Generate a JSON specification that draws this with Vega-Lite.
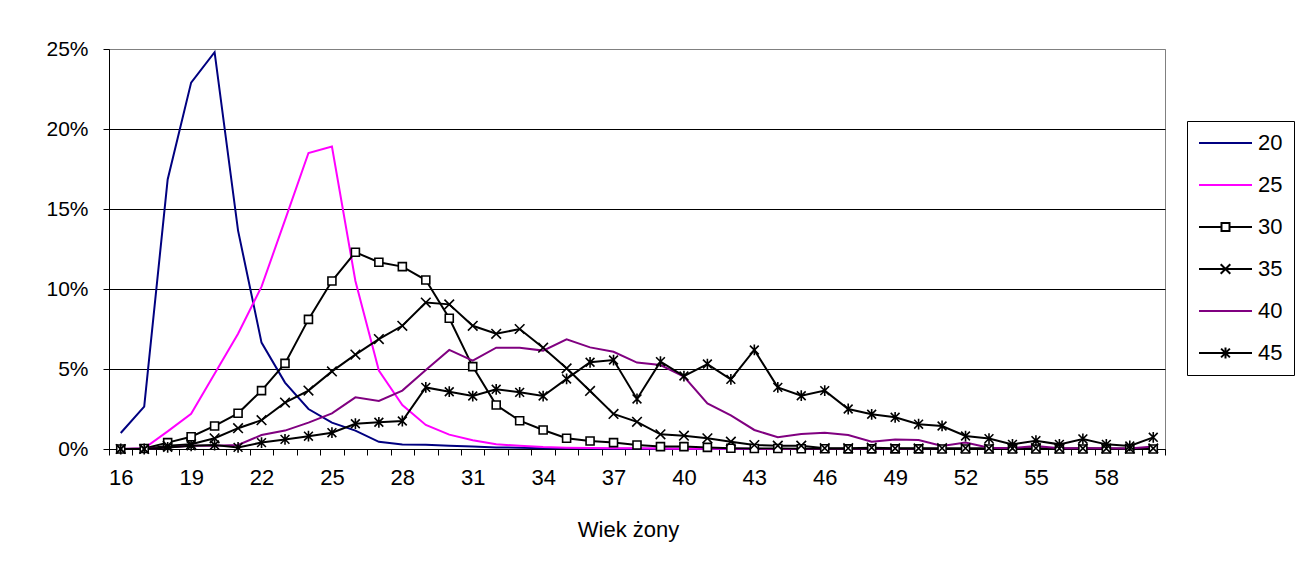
{
  "$schema": "https://vega.github.io/schema/vega-lite/v6.json",
  "width": 1056,
  "height": 400,
  "autosize": {"type": "none"},
  "padding": {"left": 109, "top": 49, "right": 139, "bottom": 122},
  "background": "white",
  "config": {"font": "Liberation Sans", "view": {"stroke": "#808080", "strokeWidth": 1}},
  "data": {"values": [
    {"a":16,"g":"20","v":1.0},{"a":17,"g":"20","v":2.65},{"a":18,"g":"20","v":16.85},{"a":19,"g":"20","v":22.9},{"a":20,"g":"20","v":24.8},{"a":21,"g":"20","v":13.65},{"a":22,"g":"20","v":6.65},{"a":23,"g":"20","v":4.15},{"a":24,"g":"20","v":2.5},{"a":25,"g":"20","v":1.65},{"a":26,"g":"20","v":1.15},{"a":27,"g":"20","v":0.45},{"a":28,"g":"20","v":0.28},{"a":29,"g":"20","v":0.27},{"a":30,"g":"20","v":0.2},{"a":31,"g":"20","v":0.15},{"a":32,"g":"20","v":0.1},{"a":33,"g":"20","v":0.08},{"a":34,"g":"20","v":0.05},{"a":35,"g":"20","v":0.04},{"a":36,"g":"20","v":0.03},{"a":37,"g":"20","v":0.02},{"a":38,"g":"20","v":0.02},{"a":39,"g":"20","v":0.01},{"a":40,"g":"20","v":0.01},{"a":41,"g":"20","v":0},{"a":42,"g":"20","v":0},{"a":43,"g":"20","v":0},{"a":44,"g":"20","v":0},{"a":45,"g":"20","v":0},{"a":46,"g":"20","v":0},{"a":47,"g":"20","v":0},{"a":48,"g":"20","v":0},{"a":49,"g":"20","v":0},{"a":50,"g":"20","v":0},{"a":51,"g":"20","v":0},{"a":52,"g":"20","v":0},{"a":53,"g":"20","v":0},{"a":54,"g":"20","v":0},{"a":55,"g":"20","v":0},{"a":56,"g":"20","v":0},{"a":57,"g":"20","v":0},{"a":58,"g":"20","v":0},{"a":59,"g":"20","v":0},{"a":60,"g":"20","v":0},
    {"a":16,"g":"25","v":0},{"a":17,"g":"25","v":0.05},{"a":18,"g":"25","v":1.1},{"a":19,"g":"25","v":2.2},{"a":20,"g":"25","v":4.7},{"a":21,"g":"25","v":7.2},{"a":22,"g":"25","v":10.15},{"a":23,"g":"25","v":14.3},{"a":24,"g":"25","v":18.5},{"a":25,"g":"25","v":18.9},{"a":26,"g":"25","v":10.5},{"a":27,"g":"25","v":4.9},{"a":28,"g":"25","v":2.75},{"a":29,"g":"25","v":1.5},{"a":30,"g":"25","v":0.9},{"a":31,"g":"25","v":0.55},{"a":32,"g":"25","v":0.3},{"a":33,"g":"25","v":0.2},{"a":34,"g":"25","v":0.12},{"a":35,"g":"25","v":0.08},{"a":36,"g":"25","v":0.06},{"a":37,"g":"25","v":0.05},{"a":38,"g":"25","v":0.04},{"a":39,"g":"25","v":0.03},{"a":40,"g":"25","v":0.02},{"a":41,"g":"25","v":0.02},{"a":42,"g":"25","v":0.01},{"a":43,"g":"25","v":0.01},{"a":44,"g":"25","v":0},{"a":45,"g":"25","v":0},{"a":46,"g":"25","v":0},{"a":47,"g":"25","v":0},{"a":48,"g":"25","v":0},{"a":49,"g":"25","v":0},{"a":50,"g":"25","v":0},{"a":51,"g":"25","v":0},{"a":52,"g":"25","v":0},{"a":53,"g":"25","v":0},{"a":54,"g":"25","v":0},{"a":55,"g":"25","v":0},{"a":56,"g":"25","v":0},{"a":57,"g":"25","v":0},{"a":58,"g":"25","v":0},{"a":59,"g":"25","v":0},{"a":60,"g":"25","v":0},
    {"a":16,"g":"30","v":0},{"a":17,"g":"30","v":0.03},{"a":18,"g":"30","v":0.4},{"a":19,"g":"30","v":0.77},{"a":20,"g":"30","v":1.44},{"a":21,"g":"30","v":2.23},{"a":22,"g":"30","v":3.65},{"a":23,"g":"30","v":5.35},{"a":24,"g":"30","v":8.1},{"a":25,"g":"30","v":10.5},{"a":26,"g":"30","v":12.3},{"a":27,"g":"30","v":11.67},{"a":28,"g":"30","v":11.4},{"a":29,"g":"30","v":10.56},{"a":30,"g":"30","v":8.17},{"a":31,"g":"30","v":5.15},{"a":32,"g":"30","v":2.75},{"a":33,"g":"30","v":1.77},{"a":34,"g":"30","v":1.19},{"a":35,"g":"30","v":0.67},{"a":36,"g":"30","v":0.5},{"a":37,"g":"30","v":0.4},{"a":38,"g":"30","v":0.25},{"a":39,"g":"30","v":0.15},{"a":40,"g":"30","v":0.15},{"a":41,"g":"30","v":0.1},{"a":42,"g":"30","v":0.05},{"a":43,"g":"30","v":0.03},{"a":44,"g":"30","v":0.03},{"a":45,"g":"30","v":0.02},{"a":46,"g":"30","v":0.02},{"a":47,"g":"30","v":0.01},{"a":48,"g":"30","v":0.01},{"a":49,"g":"30","v":0.01},{"a":50,"g":"30","v":0.01},{"a":51,"g":"30","v":0},{"a":52,"g":"30","v":0},{"a":53,"g":"30","v":0},{"a":54,"g":"30","v":0},{"a":55,"g":"30","v":0},{"a":56,"g":"30","v":0},{"a":57,"g":"30","v":0},{"a":58,"g":"30","v":0},{"a":59,"g":"30","v":0},{"a":60,"g":"30","v":0},
    {"a":16,"g":"35","v":0},{"a":17,"g":"35","v":0},{"a":18,"g":"35","v":0.2},{"a":19,"g":"35","v":0.3},{"a":20,"g":"35","v":0.67},{"a":21,"g":"35","v":1.3},{"a":22,"g":"35","v":1.8},{"a":23,"g":"35","v":2.9},{"a":24,"g":"35","v":3.65},{"a":25,"g":"35","v":4.85},{"a":26,"g":"35","v":5.9},{"a":27,"g":"35","v":6.87},{"a":28,"g":"35","v":7.7},{"a":29,"g":"35","v":9.15},{"a":30,"g":"35","v":9.04},{"a":31,"g":"35","v":7.7},{"a":32,"g":"35","v":7.2},{"a":33,"g":"35","v":7.5},{"a":34,"g":"35","v":6.33},{"a":35,"g":"35","v":5.04},{"a":36,"g":"35","v":3.63},{"a":37,"g":"35","v":2.19},{"a":38,"g":"35","v":1.7},{"a":39,"g":"35","v":0.92},{"a":40,"g":"35","v":0.83},{"a":41,"g":"35","v":0.67},{"a":42,"g":"35","v":0.46},{"a":43,"g":"35","v":0.25},{"a":44,"g":"35","v":0.21},{"a":45,"g":"35","v":0.21},{"a":46,"g":"35","v":0.05},{"a":47,"g":"35","v":0.05},{"a":48,"g":"35","v":0.08},{"a":49,"g":"35","v":0.04},{"a":50,"g":"35","v":0.04},{"a":51,"g":"35","v":0.05},{"a":52,"g":"35","v":0.05},{"a":53,"g":"35","v":0.04},{"a":54,"g":"35","v":0.04},{"a":55,"g":"35","v":0.05},{"a":56,"g":"35","v":0.03},{"a":57,"g":"35","v":0.04},{"a":58,"g":"35","v":0.03},{"a":59,"g":"35","v":0.03},{"a":60,"g":"35","v":0.04},
    {"a":16,"g":"40","v":0},{"a":17,"g":"40","v":0},{"a":18,"g":"40","v":0.1},{"a":19,"g":"40","v":0.2},{"a":20,"g":"40","v":0.2},{"a":21,"g":"40","v":0.25},{"a":22,"g":"40","v":0.87},{"a":23,"g":"40","v":1.15},{"a":24,"g":"40","v":1.65},{"a":25,"g":"40","v":2.23},{"a":26,"g":"40","v":3.23},{"a":27,"g":"40","v":3.0},{"a":28,"g":"40","v":3.65},{"a":29,"g":"40","v":4.94},{"a":30,"g":"40","v":6.19},{"a":31,"g":"40","v":5.52},{"a":32,"g":"40","v":6.33},{"a":33,"g":"40","v":6.33},{"a":34,"g":"40","v":6.15},{"a":35,"g":"40","v":6.85},{"a":36,"g":"40","v":6.35},{"a":37,"g":"40","v":6.08},{"a":38,"g":"40","v":5.4},{"a":39,"g":"40","v":5.25},{"a":40,"g":"40","v":4.52},{"a":41,"g":"40","v":2.85},{"a":42,"g":"40","v":2.1},{"a":43,"g":"40","v":1.19},{"a":44,"g":"40","v":0.73},{"a":45,"g":"40","v":0.94},{"a":46,"g":"40","v":1.02},{"a":47,"g":"40","v":0.87},{"a":48,"g":"40","v":0.46},{"a":49,"g":"40","v":0.6},{"a":50,"g":"40","v":0.56},{"a":51,"g":"40","v":0.19},{"a":52,"g":"40","v":0.4},{"a":53,"g":"40","v":0.08},{"a":54,"g":"40","v":0.05},{"a":55,"g":"40","v":0.19},{"a":56,"g":"40","v":0.05},{"a":57,"g":"40","v":0.05},{"a":58,"g":"40","v":0.05},{"a":59,"g":"40","v":0.03},{"a":60,"g":"40","v":0.15},
    {"a":16,"g":"45","v":0},{"a":17,"g":"45","v":0},{"a":18,"g":"45","v":0.1},{"a":19,"g":"45","v":0.2},{"a":20,"g":"45","v":0.25},{"a":21,"g":"45","v":0.1},{"a":22,"g":"45","v":0.4},{"a":23,"g":"45","v":0.6},{"a":24,"g":"45","v":0.8},{"a":25,"g":"45","v":1.02},{"a":26,"g":"45","v":1.58},{"a":27,"g":"45","v":1.67},{"a":28,"g":"45","v":1.75},{"a":29,"g":"45","v":3.85},{"a":30,"g":"45","v":3.58},{"a":31,"g":"45","v":3.31},{"a":32,"g":"45","v":3.73},{"a":33,"g":"45","v":3.54},{"a":34,"g":"45","v":3.31},{"a":35,"g":"45","v":4.38},{"a":36,"g":"45","v":5.42},{"a":37,"g":"45","v":5.56},{"a":38,"g":"45","v":3.13},{"a":39,"g":"45","v":5.46},{"a":40,"g":"45","v":4.56},{"a":41,"g":"45","v":5.31},{"a":42,"g":"45","v":4.35},{"a":43,"g":"45","v":6.19},{"a":44,"g":"45","v":3.85},{"a":45,"g":"45","v":3.33},{"a":46,"g":"45","v":3.65},{"a":47,"g":"45","v":2.5},{"a":48,"g":"45","v":2.17},{"a":49,"g":"45","v":1.98},{"a":50,"g":"45","v":1.55},{"a":51,"g":"45","v":1.44},{"a":52,"g":"45","v":0.81},{"a":53,"g":"45","v":0.65},{"a":54,"g":"45","v":0.29},{"a":55,"g":"45","v":0.52},{"a":56,"g":"45","v":0.29},{"a":57,"g":"45","v":0.63},{"a":58,"g":"45","v":0.29},{"a":59,"g":"45","v":0.19},{"a":60,"g":"45","v":0.73}
  ]},
  "encoding": {
    "x": {
      "field": "a", "type": "quantitative", "title": "Wiek żony",
      "scale": {"domain": [15.5, 60.5], "nice": false, "zero": false},
      "axis": {
        "values": [15.5,16.5,17.5,18.5,19.5,20.5,21.5,22.5,23.5,24.5,25.5,26.5,27.5,28.5,29.5,30.5,31.5,32.5,33.5,34.5,35.5,36.5,37.5,38.5,39.5,40.5,41.5,42.5,43.5,44.5,45.5,46.5,47.5,48.5,49.5,50.5,51.5,52.5,53.5,54.5,55.5,56.5,57.5,58.5,59.5,60.5],
        "labelExpr": "((datum.value + 0.5 - 16) % 3 == 0 && datum.value < 59) ? format(datum.value + 0.5, 'd') : ''",
        "labelOffset": 11.73,
        "labelOverlap": false,
        "labelFlush": false,
        "labelBound": false,
        "labelFontSize": 22,
        "labelColor": "black",
        "labelPadding": 12,
        "tickSize": 6,
        "tickColor": "black",
        "domainColor": "black",
        "grid": false,
        "titleFontSize": 22,
        "titleFontWeight": "normal",
        "titleColor": "black",
        "titleX": 519,
        "titleY": 70,
        "titleBaseline": "top"
      }
    },
    "y": {
      "field": "v", "type": "quantitative", "title": null,
      "scale": {"domain": [0, 25], "nice": false},
      "axis": {
        "values": [0, 5, 10, 15, 20, 25],
        "labelExpr": "datum.value + '%'",
        "labelFontSize": 21,
        "labelColor": "black",
        "labelPadding": 15,
        "tickSize": 6,
        "tickColor": "black",
        "domainColor": "black",
        "grid": true,
        "gridColor": {"condition": {"test": "datum.value == 25", "value": "#808080"}, "value": "black"},
        "gridOpacity": 1,
        "gridWidth": 1
      }
    }
  },
  "layer": [
    {
      "mark": {"type": "line", "strokeWidth": 2},
      "encoding": {
        "color": {
          "field": "g", "type": "nominal",
          "scale": {"domain": ["20","25","30","35","40","45"], "range": ["#000080","#FF00FF","#000000","#000000","#800080","#000000"]},
          "legend": {"title": null, "orient": "none", "legendX": 1078, "legendY": 72, "strokeColor": "black", "fillColor": "white", "padding": 11, "symbolType": "M-2.5,0L10.75,0", "symbolSize": 64, "symbolStrokeWidth": 2, "symbolOpacity": 1, "labelFontSize": 22, "labelColor": "black", "labelOffset": 38, "rowPadding": 20, "labelFont": "Liberation Sans"}
        }
      }
    },
    {
      "transform": [{"filter": {"field": "g", "oneOf": ["30","35","45"]}}],
      "mark": {"type": "point", "size": 64, "fill": "white", "stroke": "black", "strokeWidth": 1.6, "opacity": 1, "fillOpacity": 1, "strokeOpacity": 1},
      "encoding": {
        "shape": {
          "field": "g", "type": "nominal",
          "scale": {"domain": ["20","25","30","35","40","45","~"], "range": ["M0,0", "M0,0", "square", "M-1.2,-1.2L1.2,1.2M-1.2,1.2L1.2,-1.2", "M0,0", "M-1.1,-1.1L1.1,1.1M-1.1,1.1L1.1,-1.1M0,-1.35L0,1.35", "M0,0"]},
          "legend": {"title": null, "orient": "none", "legendX": 1078, "legendY": 72, "padding": 11, "symbolOffset": 16.5, "symbolSize": 64, "symbolStrokeWidth": 2, "symbolOpacity": 1, "labelFontSize": 22, "labelColor": "rgba(0,0,0,0)", "labelExpr": "' '", "labelOffset": 38, "rowPadding": 20, "labelFont": "Liberation Sans"}
        }
      }
    }
  ]
}
